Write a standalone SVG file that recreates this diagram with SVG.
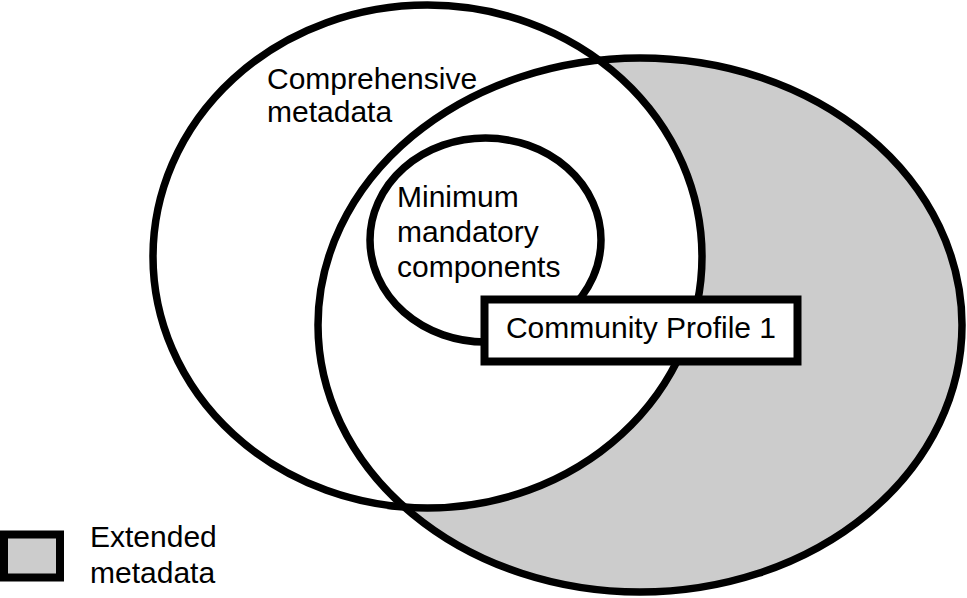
<svg xmlns="http://www.w3.org/2000/svg" width="967" height="598" viewBox="0 0 967 598">
  <style>
    .ol { fill: none; stroke: #000; stroke-width: 7.5; }
    .lbl { font-family: "Liberation Sans", Arial, sans-serif; font-size: 30px; fill: #000; }
  </style>
  <rect x="0" y="0" width="967" height="598" fill="#fff"/>
  <g id="extended-metadata">
    <ellipse cx="640" cy="325" rx="322" ry="267" fill="#cccccc"/>
  </g>
  <g id="comprehensive-metadata">
    <ellipse cx="427.5" cy="256.5" rx="274.5" ry="251.5" fill="#fff"/>
    <ellipse class="ol" cx="427.5" cy="256.5" rx="274.5" ry="251.5"/>
    <text class="lbl" x="267" y="89">Comprehensive</text>
    <text class="lbl" x="267" y="122">metadata</text>
  </g>
  <g id="extended-outline">
    <ellipse class="ol" cx="640" cy="325" rx="322" ry="267"/>
  </g>
  <g id="minimum-mandatory">
    <ellipse cx="485.5" cy="240" rx="115.5" ry="102" fill="#fff"/>
    <ellipse class="ol" cx="485.5" cy="240" rx="115.5" ry="102"/>
    <text class="lbl" x="397" y="207">Minimum</text>
    <text class="lbl" x="397" y="242">mandatory</text>
    <text class="lbl" x="397" y="277">components</text>
  </g>
  <g id="community-profile-1">
    <rect x="484.5" y="299.5" width="313" height="62" fill="#fff" stroke="#000" stroke-width="8"/>
    <text class="lbl" x="641" y="338" text-anchor="middle">Community Profile 1</text>
  </g>
  <g id="legend">
    <rect x="4" y="534.5" width="56" height="43" fill="#cccccc" stroke="#000" stroke-width="8"/>
    <text class="lbl" x="90" y="547">Extended</text>
    <text class="lbl" x="90" y="583">metadata</text>
  </g>
  <g id="connectors"></g>
</svg>
